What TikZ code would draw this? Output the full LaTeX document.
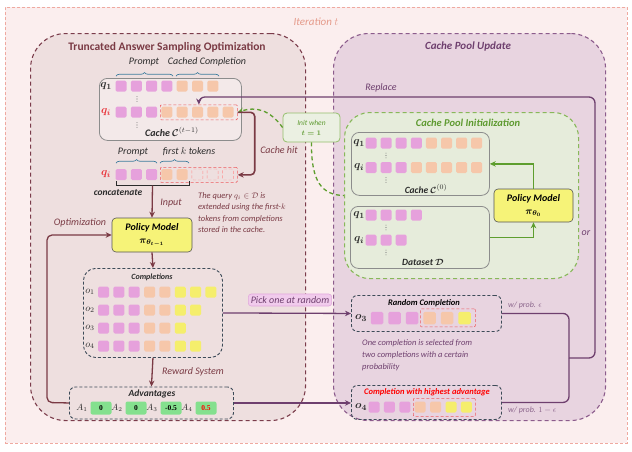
\documentclass[tikz,border=0pt]{standalone}
\usepackage{amsmath}
\usepackage{bm}
\usepackage{fontspec}
\setmainfont{Carlito}
\newfontfamily\numfont{Liberation Serif}
\usetikzlibrary{arrows.meta,decorations.pathreplacing,calc}

\definecolor{bgout}{HTML}{FBEEEE}
\definecolor{bordout}{HTML}{EFA9A0}
\definecolor{itert}{HTML}{E59A8A}
\definecolor{leftfill}{HTML}{EEDFDF}
\definecolor{leftbord}{HTML}{7B3C4B}
\definecolor{rightfill}{HTML}{E8D4E0}
\definecolor{rightbord}{HTML}{8C5C8C}
\definecolor{purp}{HTML}{6E3F6E}
\definecolor{dred}{HTML}{7A3A44}
\definecolor{cpifill}{HTML}{E6ECDB}
\definecolor{cpibord}{HTML}{88B85A}
\definecolor{gtext}{HTML}{5E9A30}
\definecolor{gline}{HTML}{5E9E2E}
\definecolor{tpk}{HTML}{E6A1DC}
\definecolor{tor}{HTML}{F6C7AA}
\definecolor{tye}{HTML}{F5EE6C}
\definecolor{slate}{HTML}{3D4B58}
\definecolor{bracecol}{HTML}{3E7D9E}
\definecolor{advg}{HTML}{84E08E}
\definecolor{pickfill}{HTML}{F1CBEC}
\definecolor{pickbord}{HTML}{E0A8DC}
\definecolor{policy}{HTML}{F6F378}
\definecolor{qred}{HTML}{E8333A}
\definecolor{grayb}{HTML}{8C8C8C}
\definecolor{txt}{HTML}{2B2B2B}

% a row of token squares: name prefix, first x, y, spacing, colour list
\newcommand\tokrow[5]{%
  \foreach \c [count=\k] in {#5}{%
    \node[tok,fill=\c] (#1-\k) at ({#2+(\k-1)*#4},#3) {};}}
% three small vertical dots centred at (x,y)
\newcommand\vdotsat[2]{%
  \foreach \d in {-2.4,0,2.4}{\fill[gray] (#1,#2+\d) circle (0.55pt);}}

\begin{document}
\begin{tikzpicture}[x=1pt,y=-1pt,
  box/.style={rectangle, anchor=north west, inner sep=0pt},
  tok/.style={rectangle, rounded corners=1.5pt, minimum size=11pt, inner sep=0pt},
  ghost/.style={tok, draw=red!45, densely dashed, line width=0.4pt, fill=none},
  trunc/.style={box, draw=qred!80, densely dashed, line width=0.7pt, rounded corners=1pt},
  cachebox/.style={box, draw=grayb, line width=0.8pt, rounded corners=8pt},
  dbox/.style={box, draw=slate, dashed, dash pattern=on 3pt off 2pt, line width=0.9pt},
  arr/.style={-{Stealth[length=6pt,width=5.5pt]}},
  brc/.style={draw=bracecol, line width=0.7pt, decorate, decoration={brace, amplitude=3.5pt}},
  pmodel/.style={rectangle, fill=policy, draw=txt!80, line width=0.6pt, rounded corners=4pt,
    minimum width=80pt, minimum height=34pt, align=center, inner sep=1pt,
    font=\fontsize{10}{12}\selectfont},
  advbox/.style={rectangle, fill=advg, rounded corners=2pt, minimum width=21pt, minimum height=13pt,
    inner sep=0pt, font=\numfont\bfseries\fontsize{7.5}{8}\selectfont},
  it/.style={font=\itshape\fontsize{#1}{#1}\selectfont, inner sep=1pt},
  bi/.style={font=\bfseries\itshape\fontsize{#1}{#1}\selectfont, inner sep=1pt},
  qlab/.style={font=\fontsize{11}{11}\selectfont, inner sep=0pt},
  olab/.style={font=\fontsize{10}{10}\selectfont, inner sep=0pt, text=txt}
]
\useasboundingbox (0,0) rectangle (632,451);

% ---------- frames ----------
\node[box, minimum width=622pt, minimum height=436pt, fill=bgout, draw=bordout,
  dash pattern=on 3pt off 2pt, line width=0.6pt] (iter) at (5,7) {};
\node[it=11, text=itert] (iterlab) at (316,22) {Iteration $t$};

\node[box, minimum width=275pt, minimum height=387pt, rounded corners=35pt, fill=leftfill,
  draw=leftbord, dash pattern=on 4pt off 3pt, line width=1.1pt] (tas) at (30,33) {};
\node[font=\bfseries\fontsize{11.5}{12}\selectfont, text=dred] (tastitle) at (167,47)
  {Truncated Answer Sampling Optimization};

\node[box, minimum width=272pt, minimum height=387pt, rounded corners=35pt, fill=rightfill,
  draw=rightbord, dash pattern=on 4pt off 3pt, line width=1.1pt] (cpu) at (333,33) {};
\node[bi=11, text=purp] (cputitle) at (468,47) {Cache Pool Update};

% ---------- cache C^(t-1) ----------
\node[cachebox, minimum width=142pt, minimum height=62pt, fill=leftfill!70!white] (cprev) at (99,78) {};
\tokrow{ca}{121}{86}{15.3}{tpk,tpk,tpk,tpk,tor,tor,tor}
\tokrow{cb}{121}{112}{15.3}{tpk,tpk,tpk,tor,tor,tor,tor,tor}
\node[trunc, minimum width=77pt, minimum height=15pt] (qcache) at (160,104.5) {};
\node[qlab, text=txt] (cq1) at (106,86) {$\bm{q_1}$};
\node[qlab, text=qred] (cqi) at (106,112) {$\bm{q_i}$};
\vdotsat{137}{99}
\vdotsat{137}{125}
\node[bi=10, text=txt] (cprevlab) at (172,132) {Cache $\bm{\mathcal{C}}^{(t-1)}$};
\draw[brc] (116,76) -- (173,76);
\draw[brc] (176,76) -- (219,76);
\node[it=10, text=txt] (lprompt) at (144,62) {Prompt};
\node[it=10, text=txt] (lcached) at (207,62) {Cached Completion};

% ---------- truncated query ----------
\node[it=10, text=txt] (lprompt2) at (133,152) {Prompt};
\node[it=10, text=txt] (lfirstk) at (189,152) {first $k$ tokens};
\draw[brc] (116,163) -- (157,163);
\draw[brc] (160,163) -- (189,163);
\tokrow{tq}{121}{174.5}{15.3}{tpk,tpk,tpk,tor,tor}
\foreach \k in {1,2,3}{\node[ghost] (gh-\k) at ({182+\k*15.3},174.5) {};}
\node[trunc, minimum width=77pt, minimum height=15pt] (qtrunc) at (160,167) {};
\node[qlab, text=qred] (tqi) at (106,174.5) {$\bm{q_i}$};
\coordinate (cat) at (152.5,185.5);
\draw[txt, line width=0.8pt] (116,181) -- (116,185.5) -- (189,185.5) -- (189,181);
\node[bi=9.5, text=txt] (lcat) at (118,193) {concatenate};

\node[anchor=north west, align=left, text=dred, inner sep=0pt,
  font=\itshape\fontsize{8.5}{11.5}\selectfont] (qnote) at (198,192)
  {The query $q_i\in\mathcal{D}$ is\\ extended using the first-$k$\\ tokens from completions\\ stored in the cache.};

% ---------- policy model t-1 ----------
\node[pmodel] (pm1) at (152,235) {\textbf{\textit{Policy Model}}\\[1pt]$\bm{\pi_{\theta_{t-1}}}$};
\draw[dred, line width=1.3pt, arr] (cat) -- (pm1.north);
\node[it=10, text=dred] (linput) at (171,203) {Input};
\node[it=10, text=dred] (lopt) at (80,223) {Optimization};

% ---------- completions ----------
\node[dbox, minimum width=139pt, minimum height=89pt, rounded corners=12pt] (comp) at (83,268) {};
\node[bi=8, text=txt] (comptitle) at (152,277) {Completions};
\tokrow{o1}{103.5}{292}{15.35}{tpk,tpk,tpk,tor,tor,tye,tye,tye}
\tokrow{o2}{103.5}{310}{15.35}{tpk,tpk,tpk,tor,tor,tye,tye}
\tokrow{o3}{103.5}{328}{15.35}{tpk,tpk,tpk,tor,tor,tye}
\tokrow{o4}{103.5}{346}{15.35}{tpk,tpk,tpk,tor,tor,tye,tye}
\foreach \k/\y in {1/292,2/310,3/328,4/346}{\node[olab] (ol-\k) at (90,\y) {$o_{\k}$};}
\draw[dred, line width=1.3pt, arr] (pm1.south) -- (comp.north);

% ---------- advantages ----------
\node[dbox, minimum width=164pt, minimum height=32pt, rounded corners=6pt] (adv) at (69,386.5) {};
\node[bi=9.5, text=txt] (advtitle) at (152,394) {Advantages};
\foreach \k/\x/\v in {1/101/0,2/136/0,3/171/-0.5}{
  \node[olab, font=\bfseries\fontsize{9}{9}\selectfont] (al-\k) at (\x-19,408) {$A_{\k}$};
  \node[advbox] (av-\k) at (\x,408) {\v};}
\node[olab, font=\bfseries\fontsize{9}{9}\selectfont] (al-4) at (187,408) {$A_{4}$};
\node[advbox, text=red] (av-4) at (206,408) {0.5};
\draw[dred, line width=1.3pt, arr] (comp.south) -- (adv.north);
\node[it=10, text=dred] (lreward) at (193,372) {Reward System};
\draw[dred, line width=1.3pt, rounded corners=5pt, arr] (adv.west) -- (47,402.5) |- (pm1.west);

% ---------- cache pool initialization ----------
\node[box, minimum width=234pt, minimum height=166pt, rounded corners=25pt, fill=cpifill,
  draw=cpibord, dash pattern=on 4pt off 3pt, line width=1.1pt] (cpi) at (344,112) {};
\node[bi=10.5, text=gtext] (cpititle) at (468,123) {Cache Pool Initialization};

\node[cachebox, minimum width=138pt, minimum height=63pt, fill=cpifill] (c0) at (351,132) {};
\tokrow{za}{371}{143}{15.1}{tpk,tpk,tpk,tpk,tor,tor,tor,tor}
\tokrow{zb}{371}{167.5}{15.1}{tpk,tpk,tpk,tor,tor,tor,tor,tor}
\node[qlab, text=txt] (zq1) at (359,143) {$\bm{q_1}$};
\node[qlab, text=txt] (zqi) at (359,167.5) {$\bm{q_i}$};
\vdotsat{386}{155.5}
\vdotsat{386}{180}
\node[bi=9.5, text=txt] (c0lab) at (426,189) {Cache $\bm{\mathcal{C}}^{(0)}$};

\node[cachebox, minimum width=139pt, minimum height=62pt, fill=cpifill] (ds) at (350,206) {};
\tokrow{da}{371}{215}{15.1}{tpk,tpk,tpk,tpk}
\tokrow{db}{371}{240}{15.1}{tpk,tpk,tpk}
\node[qlab, text=txt] (dq1) at (359,215) {$\bm{q_1}$};
\node[qlab, text=txt] (dqi) at (359,240) {$\bm{q_i}$};
\vdotsat{386}{227.5}
\vdotsat{386}{252.5}
\node[bi=9.5, text=txt] (dslab) at (423,262) {Dataset $\bm{\mathcal{D}}$};

\node[pmodel, minimum width=79pt, minimum height=33pt] (pm0) at (533.5,205.5)
  {\textbf{\textit{Policy Model}}\\[1pt]$\bm{\pi_{\theta_0}}$};
\draw[gline, line width=1.3pt, arr] (ds.east) -| (pm0.south);
\draw[gline, line width=1.3pt, arr] (pm0.north) |- (c0.east);

% ---------- init when t = 1 ----------
\node[rectangle, fill=cpifill!80!white, draw=cpibord!90, line width=0.8pt, rounded corners=4pt,
  minimum width=57pt, minimum height=29pt, align=center, inner sep=1pt, text=gtext,
  font=\itshape\fontsize{7.5}{10}\selectfont] (init) at (311.5,127.5) {Init when\\ $\bm{t=1}$};
\draw[gline, line width=1.3pt, dash pattern=on 4pt off 3pt, arr]
  (init.west) .. controls (270,110) and (256,106) .. (qcache.east);
\draw[gline, line width=1.3pt, dash pattern=on 4pt off 3pt]
  (init.south) .. controls (311,182) and (322,195) .. (cpi.west);

% ---------- cache hit ----------
\draw[dred, line width=1.6pt, rounded corners=4pt, arr] (qcache.east) -- ++(17,0) |- (qtrunc.east);
\node[it=10, text=dred] (lhit) at (279,150) {Cache hit};

% ---------- selection ----------
\node[rectangle, fill=pickfill, draw=pickbord, line width=0.6pt, rounded corners=3pt,
  inner sep=2.5pt, text=purp, font=\itshape\fontsize{10}{10}\selectfont] (pick) at (290,300)
  {Pick one at random};

\node[dbox, minimum width=150pt, minimum height=36pt, rounded corners=6pt] (rand) at (351,295) {};
\node[bi=8.5, text=black] (randtitle) at (424,303) {Random Completion};
\foreach \c [count=\k] in {tpk,tpk,tpk,tor,tor,tye}{
  \node[tok, fill=\c, minimum size=12.5pt] (rt-\k) at ({377+(\k-1)*17.5},318) {};}
\node[trunc, minimum width=55pt, minimum height=18pt] (rtr) at (420,308.5) {};
\node[olab, font=\fontsize{11}{11}\selectfont] (rlab) at (361,318) {$\bm{o_3}$};

\node[dbox, minimum width=150pt, minimum height=34pt, rounded corners=6pt] (high) at (351,385) {};
\node[bi=8.5, text=red] (hightitle) at (427,392) {Completion with highest advantage};
\tokrow{ht}{374}{407}{15.4}{tpk,tpk,tpk,tor,tor,tye,tye}
\node[trunc, minimum width=62pt, minimum height=18pt] (htr) at (413,398) {};
\node[olab, font=\fontsize{11}{11}\selectfont] (hlab) at (361,407) {$\bm{o_4}$};

\node[anchor=north west, align=left, text=purp, inner sep=0pt,
  font=\itshape\fontsize{8.5}{12}\selectfont] (selnote) at (362,339)
  {One completion is selected from\\ two completions with a certain\\ probability};

\node[anchor=west, it=8, text=purp!80] (peps) at (507,305) {w/ prob. $\epsilon$};
\node[anchor=west, it=8, text=purp!80] (peps2) at (507,410) {w/ prob. $1-\epsilon$};

\draw[purp, line width=1.3pt, arr] (comp.east) -- (rand.west);
\draw[purp, line width=1.3pt, arr] (adv.east) -- (high.west |- adv.east);

% ---------- replace loop ----------
\coordinate (junc) at (569,358);
\coordinate (jr) at (595,358);
\coordinate (rep) at (qcache.north |- 0,97);
\draw[purp, line width=1.3pt, rounded corners=6pt] (rand.east) -| (junc);
\draw[purp, line width=1.3pt, rounded corners=6pt] (high.east) -| (junc);
\draw[purp, line width=1.3pt, rounded corners=6pt, arr] (junc) -- (jr) |- (rep) -- (qcache.north);
\node[it=10, text=purp] (lrep) at (381,88) {Replace};
\node[it=10, text=purp] (lor) at (586,233) {or};

\end{tikzpicture}
\end{document}
